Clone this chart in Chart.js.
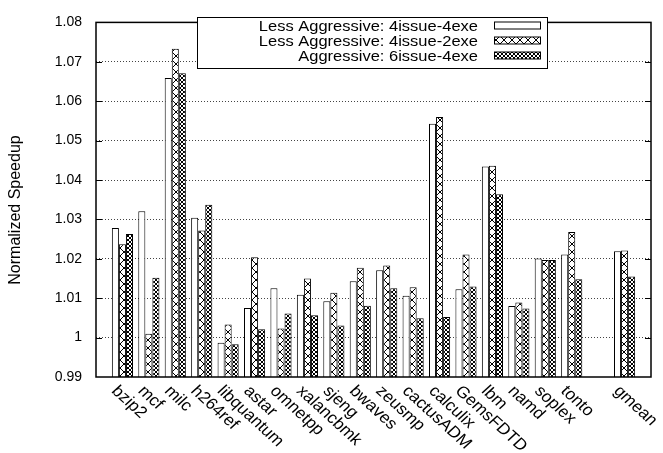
<!DOCTYPE html>
<html>
<head>
<meta charset="utf-8">
<script src="https://cdn.jsdelivr.net/npm/chart.js@4"></script>
<style>
html,body{margin:0;padding:0;background:#fff;}
#wrap{width:663px;height:453px;}
</style>
</head>
<body>
<div id="wrap"><canvas id="c" width="663" height="453"></canvas></div>
<script>
// ---- data ----
const categories = ['bzip2','mcf','milc','h264ref','libquantum','astar','omnetpp','xalancbmk','sjeng','bwaves','zeusmp','cactusADM','calculix','GemsFDTD','lbm','namd','soplex','tonto','','gmean'];
const seriesNames = ['Less Aggressive: 4issue-4exe','Less Aggressive: 4issue-2exe','Aggressive: 6issue-4exe'];
const less4issue4exe = [1.0278,1.0321,1.0659,1.0304,0.9987,1.0075,1.0125,1.0109,1.0092,1.0143,1.0171,1.0106,1.0543,1.0123,1.0434,1.0080,1.0201,1.0211,null,1.0219];
const less4issue2exe = [1.0237,1.0010,1.0733,1.0272,1.0033,1.0204,1.0023,1.0150,1.0114,1.0177,1.0183,1.0128,1.0560,1.0211,1.0436,1.0089,1.0197,1.0268,null,1.0221];
const aggr6issue4exe = [1.0263,1.0152,1.0671,1.0337,0.9983,1.0021,1.0061,1.0057,1.0031,1.0081,1.0125,1.0049,1.0052,1.0130,1.0364,1.0074,1.0197,1.0148,null,1.0155];
const yTicks = [0.99,1.00,1.01,1.02,1.03,1.04,1.05,1.06,1.07,1.08];
const yTickLabels = ['0.99','1','1.01','1.02','1.03','1.04','1.05','1.06','1.07','1.08'];
const yTitle = 'Normalized Speedup';

// ---- patterns ----
function makePattern(size){
  const c=document.createElement('canvas');c.width=size;c.height=size;
  const g=c.getContext('2d');
  g.fillStyle='#fff';g.fillRect(0,0,size,size);
  g.strokeStyle='#000';g.lineWidth=1;
  g.beginPath();g.moveTo(0,0);g.lineTo(size,size);g.moveTo(size,0);g.lineTo(0,size);g.stroke();
  return g.createPattern(c,'repeat');
}
const fills=['#ffffff',makePattern(8),makePattern(4)];

const FONT='"Liberation Sans", Arial, Helvetica, sans-serif';
Chart.defaults.font.family=FONT;
Chart.defaults.color='#000';

const padLabels=[''].concat(categories,['']);
const pad=a=>[null].concat(a,[null]);
const seriesData=[less4issue4exe,less4issue2exe,aggr6issue4exe];

const custom={
  id:'custom',
  afterDatasetsDraw(chart){
    const {ctx,chartArea:a,scales:{x,y}}=chart;
    ctx.save();
    // inner tick marks
    ctx.strokeStyle='#000';ctx.lineWidth=1;
    yTicks.forEach((v,i)=>{
      if(i===0||i===yTicks.length-1)return;
      const py=Math.round(y.getPixelForValue(v))+0.5;
      ctx.beginPath();ctx.moveTo(a.left,py);ctx.lineTo(a.left+6,py);
      ctx.moveTo(a.right,py);ctx.lineTo(a.right-6,py);ctx.stroke();
    });
    // frame
    ctx.lineWidth=1.5;
    ctx.strokeRect(a.left,a.top,a.right-a.left,a.bottom-a.top);
    // legend
    const lx=197.5,ly=17.5,lw=350,lh=51;
    ctx.fillStyle='#fff';ctx.fillRect(lx,ly,lw,lh);
    ctx.lineWidth=1;ctx.strokeStyle='#000';ctx.strokeRect(lx,ly,lw,lh);
    const rows=[25.5,40.5,55.5];
    chart.data.datasets.forEach((ds,i)=>{
      const cy=rows[i];
      ctx.save();
      ctx.translate(478,cy+5.5);
      ctx.scale(1.1,1);
      ctx.font='15px '+FONT;ctx.fillStyle='#000';ctx.textAlign='right';ctx.textBaseline='alphabetic';
      ctx.fillText(ds.label,0,0);
      ctx.restore();
      ctx.fillStyle=ds.backgroundColor;
      ctx.fillRect(494,cy-3.5,47,7);
      ctx.strokeStyle='#000';ctx.lineWidth=1;
      ctx.strokeRect(494.5,cy-3.5,46,7);
    });
    // x labels
    ctx.fillStyle='#000';
    chart.data.labels.forEach((lab,i)=>{
      if(!lab)return;
      const px=x.getPixelForValue(i);
      ctx.save();
      ctx.translate(px-2,a.bottom+6);
      ctx.scale(1.1,1);
      ctx.rotate(Math.PI/4);
      ctx.font='16px '+FONT;ctx.textAlign='left';ctx.textBaseline='top';
      ctx.fillText(lab,0,0);
      ctx.restore();
    });
    // y title
    ctx.save();
    ctx.translate(20,210);
    ctx.rotate(-Math.PI/2);
    ctx.font='16px '+FONT;ctx.textAlign='center';ctx.textBaseline='alphabetic';
    ctx.fillText(yTitle,0,0);
    ctx.restore();
    ctx.restore();
  }
};

new Chart(document.getElementById('c'),{
  type:'bar',
  data:{
    labels:padLabels,
    datasets:seriesData.map((d,i)=>({
      label:seriesNames[i],
      data:pad(d),
      backgroundColor:fills[i],
      borderColor:'#000',
      borderWidth:1,
      categoryPercentage:0.8,
      barPercentage:1.0
    }))
  },
  options:{
    responsive:false,
    animation:false,
    layout:{padding:{top:11,right:12,left:0,bottom:0}},
    plugins:{legend:{display:false},tooltip:{enabled:false}},
    scales:{
      x:{
        offset:false,
        grid:{display:false},
        border:{display:false},
        ticks:{display:false},
        afterFit(s){s.height=76;}
      },
      y:{
        min:0.99,max:1.08,
        afterBuildTicks(s){s.ticks=yTicks.map(v=>({value:v}));},
        afterFit(s){s.width=96;},
        border:{display:false,dash:[1,2]},
        grid:{
          drawTicks:false,
          color:(c)=>(c.index===0||c.index===yTicks.length-1)?'rgba(0,0,0,0)':'#444',
          lineWidth:1
        },
        ticks:{
          padding:14,
          font:{size:14},
          color:'#000',
          callback:(v,i)=>yTickLabels[i]
        }
      }
    }
  },
  plugins:[custom]
});
</script>
</body>
</html>
